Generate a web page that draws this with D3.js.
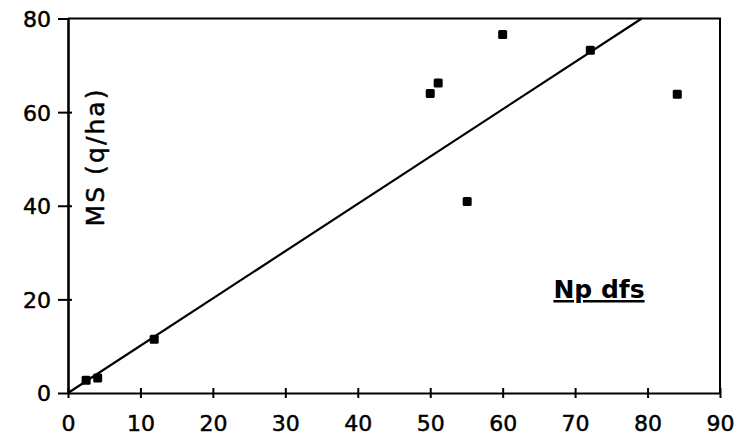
<!DOCTYPE html>
<head>
  <meta charset="utf-8">
  <script src="https://d3js.org/d3.v7.min.js"></script>
  <style>
    body { margin:0; background:#fff; }
    text { font-family: "DejaVu Sans", sans-serif; fill:#000; }
  </style>
</head>

<body>
  <script>

    var width = 746,
        height = 441;

    // observations
    var npDfs = [2.5, 4.1, 11.9, 50, 51.1, 55.1, 60, 72.1, 84.1];
    var msYield = [2.7, 3.2, 11.5, 64, 66.2, 40.9, 76.6, 73.2, 63.8];

    // fitted line
    var fitX = [0, 79.2];
    var fitY = [0, 80];

    var xTicks = [0, 10, 20, 30, 40, 50, 60, 70, 80, 90];
    var yTicks = [0, 20, 40, 60, 80];

    var svg = d3.select("body").append("svg")
      .attr("width", width)
      .attr("height", height);

    var x = d3.scaleLinear().domain([0, 90]).range([68, 720]);
    var y = d3.scaleLinear().domain([0, 80]).range([393, 18.5]);

    // frame: top and right lines
    svg.append("path")
      .attr("d", "M" + x(0) + "," + y(80) + "H" + x(90) + "V" + y(0))
      .attr("fill", "none")
      .attr("stroke", "#000")
      .attr("stroke-width", 2);

    var xAxis = d3.axisBottom(x)
        .tickValues(xTicks)
        .tickSize(5)
        .tickPadding(17)
        .tickSizeOuter(0);

    var gx = svg.append("g")
      .attr("transform", "translate(0," + y(0) + ")")
      .call(xAxis);
    gx.selectAll("line").attr("y1", -5).attr("stroke-width", 2);
    gx.select(".domain").attr("stroke-width", 2.2);
    gx.selectAll("text")
      .attr("font-size", 22)
      .attr("font-family", "DejaVu Sans")
      .attr("stroke", "#000")
      .attr("stroke-width", 0.5);

    var yAxis = d3.axisLeft(y)
        .tickValues(yTicks)
        .tickSize(10)
        .tickPadding(7)
        .tickSizeOuter(0);

    var gy = svg.append("g")
      .attr("transform", "translate(" + x(0) + ",0)")
      .call(yAxis);
    gy.selectAll(".tick line")
      .attr("x2", function(d) { return d == 0 || d == 80 ? 0 : 4; })
      .attr("x1", -10)
      .attr("stroke-width", 2);
    gy.select(".domain").attr("stroke-width", 2.6);
    gy.selectAll("text")
      .attr("font-size", 22)
      .attr("font-family", "DejaVu Sans")
      .attr("dy", "0.36em")
      .attr("stroke", "#000")
      .attr("stroke-width", 0.5);

    // fit line
    svg.append("line")
      .attr("x1", x(fitX[0])).attr("y1", y(fitY[0]))
      .attr("x2", x(fitX[1])).attr("y2", y(fitY[1]))
      .attr("stroke", "#000")
      .attr("stroke-width", 2.2);

    // points
    svg.selectAll("rect.pt").data(npDfs).enter()
      .append("rect")
      .attr("class", "pt")
      .attr("x", function(d) { return x(d) - 4.5; })
      .attr("y", function(d, i) { return y(msYield[i]) - 4.5; })
      .attr("width", 9)
      .attr("height", 9)
      .attr("rx", 1.5)
      .attr("fill", "#000");

    // axis titles
    svg.append("text")
      .attr("transform", "translate(104,158) rotate(-90)")
      .attr("text-anchor", "middle")
      .attr("font-size", 25)
      .attr("textLength", 137)
      .attr("stroke", "#000")
      .attr("stroke-width", 0.5)
      .text("MS (q/ha)");

    svg.append("text")
      .attr("x", 599)
      .attr("y", 298)
      .attr("text-anchor", "middle")
      .attr("font-size", 25)
      .attr("font-weight", "bold")
      .attr("text-decoration", "underline")
      .text("Np dfs");

  </script>
</body>
